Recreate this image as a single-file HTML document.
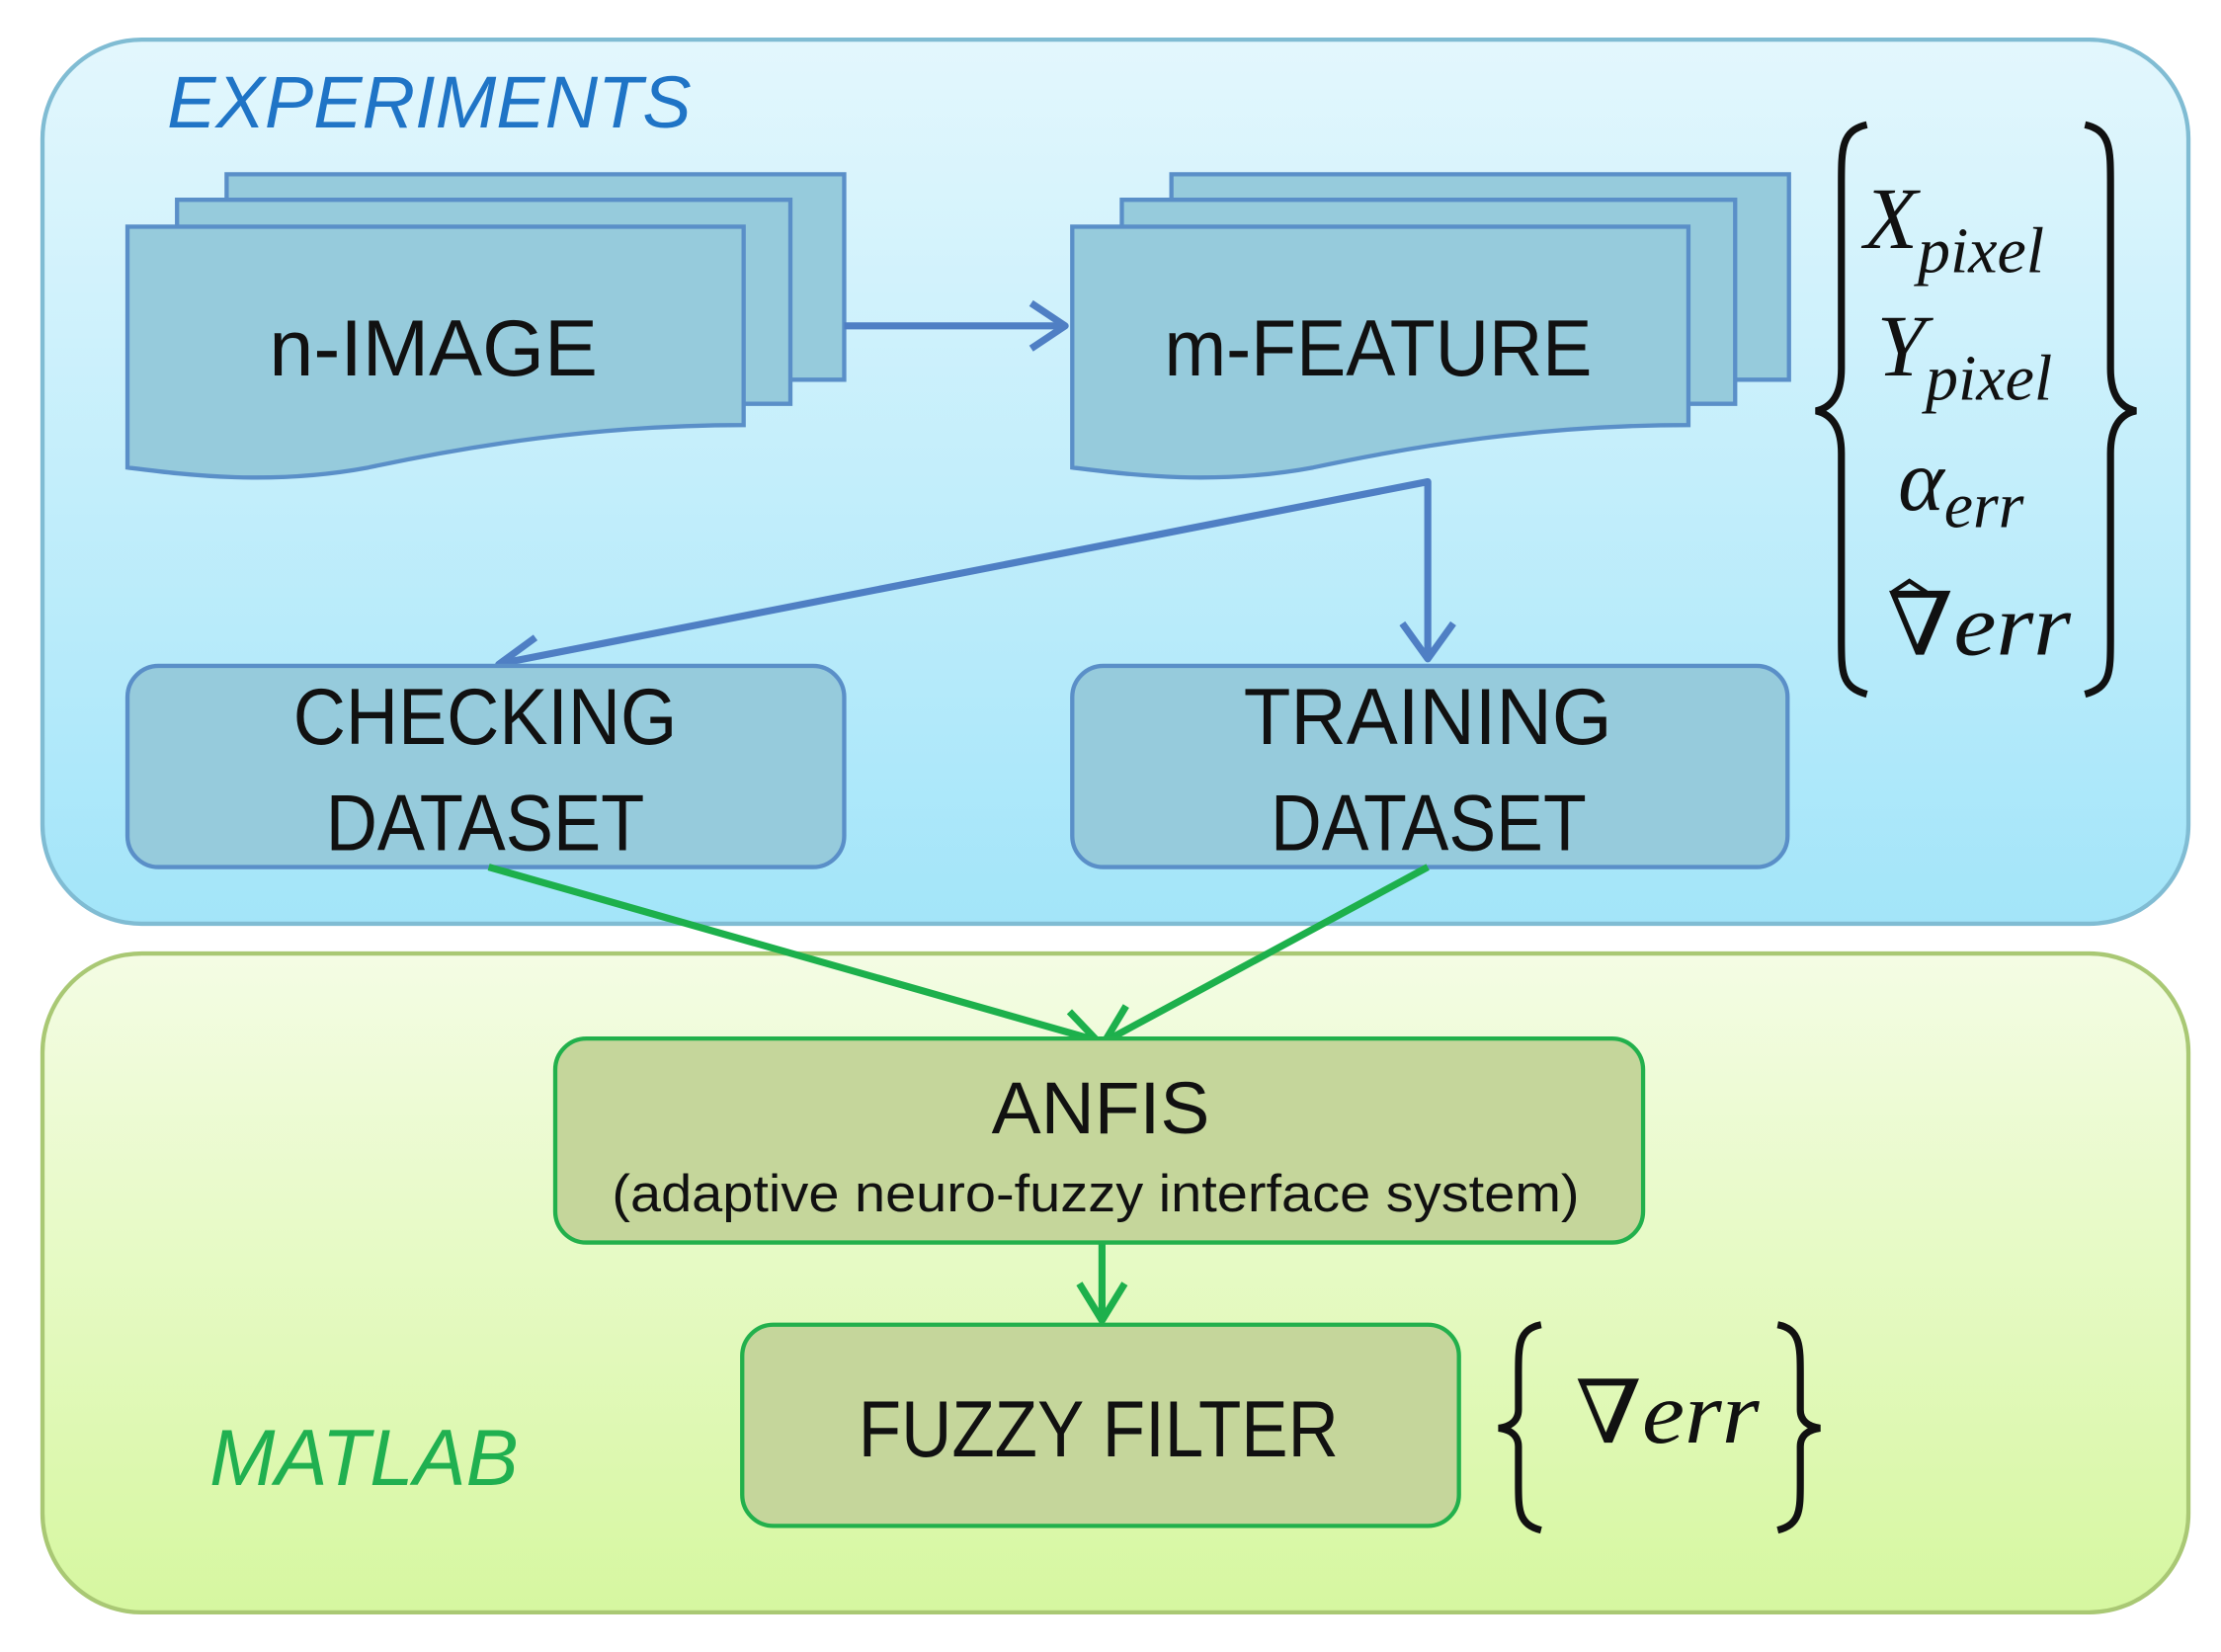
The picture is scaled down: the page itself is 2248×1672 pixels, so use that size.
<!DOCTYPE html>
<html><head><meta charset="utf-8"><style>
html,body{margin:0;padding:0;background:#fff;}
svg{display:block;}
text{font-family:"Liberation Sans",sans-serif;}
.m text{font-family:"Liberation Serif","DejaVu Serif",serif;font-style:italic;}
</style></head><body>
<svg width="2248" height="1672" viewBox="0 0 1568 1166" preserveAspectRatio="none" xmlns="http://www.w3.org/2000/svg">
<defs>
<linearGradient id="gb" x1="0" y1="0" x2="0" y2="1"><stop offset="0" stop-color="#e3f7fd"/><stop offset="1" stop-color="#a3e5f9"/></linearGradient>
<linearGradient id="gg" x1="0" y1="0" x2="0" y2="1"><stop offset="0" stop-color="#f4fce4"/><stop offset="1" stop-color="#d6f7a0"/></linearGradient>
<g id="doc">
<path d="M160,123 H596 V268 H160 Z" />
<path d="M125,141 H558 V285 H125 Z" />
<path d="M90,160 H525 V300 C420,300 330,315 260,330 C190,343 130,335 90,330 Z" />
</g>
</defs>
<rect x="30" y="28" width="1515" height="624" rx="70" fill="url(#gb)" stroke="#80bcd3" stroke-width="3"/>
<rect x="30" y="673" width="1515" height="465" rx="70" fill="url(#gg)" stroke="#a9c874" stroke-width="3"/>
<text x="118" y="90" font-size="52" font-style="italic" fill="#1f74c6" textLength="370" lengthAdjust="spacingAndGlyphs">EXPERIMENTS</text>
<text x="148" y="1048" font-size="56" font-style="italic" fill="#20b050" textLength="218" lengthAdjust="spacingAndGlyphs">MATLAB</text>

<g fill="#96cbdc" stroke="#5a8fc8" stroke-width="3"><use href="#doc"/><use href="#doc" x="667"/></g>
<text x="190" y="265" font-size="56" fill="#111" textLength="232" lengthAdjust="spacingAndGlyphs">n-IMAGE</text>
<text x="822" y="265" font-size="56" fill="#111" textLength="302" lengthAdjust="spacingAndGlyphs">m-FEATURE</text>

<g fill="none" stroke="#4f7fc4" stroke-width="5" stroke-linejoin="round">
<line x1="596" y1="230" x2="750" y2="230"/>
<path d="M728,214 L752,230 L728,246"/>
<polyline points="1008,465 1008,340 355,468"/>
<path d="M990,440 L1008,465 L1026,440"/>
<path d="M378,450 L352,469 L382,478"/>
</g>

<rect x="90" y="470" width="506" height="142" rx="22" fill="#96cbdc" stroke="#5a8fc8" stroke-width="3"/>
<rect x="757" y="470" width="505" height="142" rx="22" fill="#96cbdc" stroke="#5a8fc8" stroke-width="3"/>
<text x="207" y="525" font-size="56" fill="#111" textLength="271" lengthAdjust="spacingAndGlyphs">CHECKING</text>
<text x="230" y="600" font-size="56" fill="#111" textLength="225" lengthAdjust="spacingAndGlyphs">DATASET</text>
<text x="878" y="525" font-size="56" fill="#111" textLength="260" lengthAdjust="spacingAndGlyphs">TRAINING</text>
<text x="897" y="600" font-size="56" fill="#111" textLength="223" lengthAdjust="spacingAndGlyphs">DATASET</text>

<g fill="none" stroke="#111" stroke-width="5">
<path d="M1318,88 C1300,92 1300,105 1300,130 V260 C1300,280 1292,288 1282,290 C1292,292 1300,300 1300,320 V450 C1300,475 1300,485 1318,490"/>
<path d="M1472,88 C1490,92 1490,105 1490,130 V260 C1490,280 1498,288 1508,290 C1498,292 1490,300 1490,320 V450 C1490,475 1490,485 1472,490"/>
<path d="M1088,935 C1072,938 1072,950 1072,970 V995 C1072,1003 1066,1007 1058,1008 C1066,1009 1072,1013 1072,1021 V1046 C1072,1066 1072,1076 1088,1080"/>
<path d="M1255,935 C1271,938 1271,950 1271,970 V995 C1271,1003 1277,1007 1285,1008 C1277,1009 1271,1013 1271,1021 V1046 C1271,1066 1271,1076 1255,1080"/>
<path d="M1336,418 L1348,410 L1360,418" stroke-width="3"/>
</g>
<g class="m" fill="#111">
<text x="1316" y="175" font-size="62">X<tspan font-size="46" dy="17">pixel</tspan></text>
<text x="1325" y="265" font-size="62">Y<tspan font-size="46" dy="17">pixel</tspan></text>
<text x="1340" y="360" font-size="62">α<tspan font-size="46" dy="12">err</tspan></text>
<text x="1332" y="462" font-size="62" textLength="130" lengthAdjust="spacingAndGlyphs">∇err</text>
<text x="1112" y="1018" font-size="62" textLength="130" lengthAdjust="spacingAndGlyphs">∇err</text>
</g>

<g fill="none" stroke="#1db04c" stroke-width="5" stroke-linejoin="round">
<line x1="345" y1="612" x2="773" y2="734"/>
<line x1="1008" y1="612" x2="782" y2="734"/>
<path d="M747,742 L775,735 L755,714"/>
<path d="M795,710 L780,735 L809,736"/>
<line x1="778" y1="877" x2="778" y2="930"/>
<path d="M762,906 L778,932 L794,906"/>
</g>

<rect x="392" y="733" width="768" height="144" rx="22" fill="#c5d69b" stroke="#22b04c" stroke-width="3"/>
<text x="700" y="800" font-size="52" fill="#111" textLength="154" lengthAdjust="spacingAndGlyphs">ANFIS</text>
<text x="432" y="855" font-size="37" fill="#111" textLength="683" lengthAdjust="spacingAndGlyphs">(adaptive neuro-fuzzy interface system)</text>
<rect x="524" y="935" width="506" height="142" rx="22" fill="#c5d69b" stroke="#22b04c" stroke-width="3"/>
<text x="606" y="1028" font-size="56" fill="#111" textLength="339" lengthAdjust="spacingAndGlyphs">FUZZY FILTER</text>
</svg>
</body></html>
